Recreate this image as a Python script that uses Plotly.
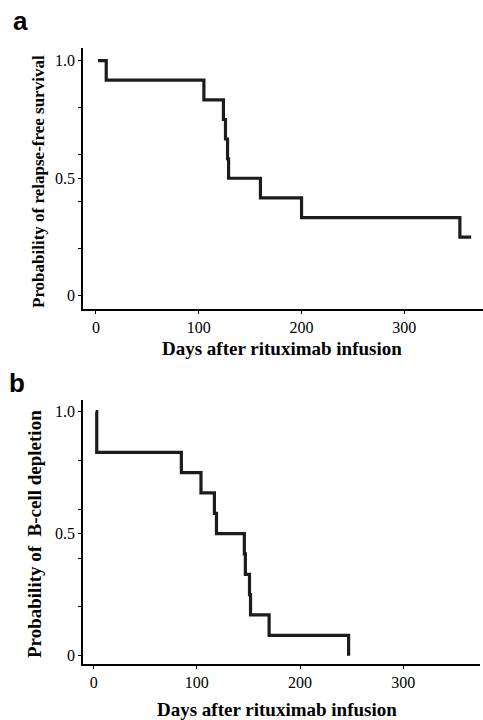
import plotly.graph_objects as go

# ── data ─────────────────────────────────────────────────────────────────────
days_a = [2, 10, 105, 124, 126, 128, 129, 160, 200, 354, 365]
surv_a = [1.0, 0.917, 0.833, 0.75, 0.667, 0.583, 0.5, 0.417, 0.333, 0.25, 0.25]

days_b = [2, 3, 85, 104, 117, 119, 146, 147, 151, 152, 170, 247]
surv_b = [1.0, 0.833, 0.75, 0.667, 0.583, 0.5, 0.417, 0.333, 0.25, 0.167, 0.083, 0.0]

x_ticks = [0, 100, 200, 300]
y_ticks = [0, 0.2, 0.4, 0.5, 0.6, 0.8, 1.0]
y_ticktext = ["0", "", "", "0.5", "", "", "1.0"]

W, H = 483, 720
SERIF = "Liberation Serif, Times New Roman, serif"
LINE = "#1c1c1c"


def px(x):
    return x / W


def py(y):
    return 1 - y / H


fig = go.Figure()

fig.add_trace(go.Scatter(
    x=days_a, y=surv_a, mode="lines", line_shape="hv",
    line=dict(color=LINE, width=3.2), xaxis="x", yaxis="y", showlegend=False,
))
fig.add_trace(go.Scatter(
    x=days_b, y=surv_b, mode="lines", line_shape="hv",
    line=dict(color=LINE, width=3.2), xaxis="x2", yaxis="y2", showlegend=False,
))

axis_common = dict(
    showline=True, linecolor="black", linewidth=1.5,
    ticks="outside", ticklen=3, tickwidth=1.2, tickcolor="black",
    showgrid=False, zeroline=False,
    tickfont=dict(family=SERIF, size=16, color="black"),
)

fig.update_layout(
    width=W, height=H,
    paper_bgcolor="white", plot_bgcolor="white",
    margin=dict(l=0, r=0, t=0, b=0),
    xaxis=dict(domain=[px(83), px(483)], range=[-12.6, 376.5],
               tickvals=x_ticks, anchor="y", **axis_common),
    yaxis=dict(domain=[py(309), py(48)], range=[-0.056, 1.054],
               tickvals=y_ticks, ticktext=y_ticktext, anchor="x",
               **axis_common),
    xaxis2=dict(domain=[px(83), px(480)], range=[-10.3, 374.3],
                tickvals=x_ticks, anchor="y2", **axis_common),
    yaxis2=dict(domain=[py(664), py(400)], range=[-0.034, 1.048],
                tickvals=y_ticks, ticktext=y_ticktext, anchor="x2",
                **axis_common),
)

# ── titles and panel letters ─────────────────────────────────────────────────
notes = [
    dict(x=px(282), y=py(348), text="<b>Days after rituximab infusion</b>",
         textangle=0, size=19),
    dict(x=px(277), y=py(709), text="<b>Days after rituximab infusion</b>",
         textangle=0, size=19),
    dict(x=px(38), y=py(182), text="<b>Probability of relapse-free survival</b>",
         textangle=-90, size=17),
    dict(x=px(34), y=py(534), text="<b>Probability of&nbsp; B-cell depletion</b>",
         textangle=-90, size=19),
]
for n in notes:
    size = n.pop("size")
    fig.add_annotation(xref="paper", yref="paper", showarrow=False,
                       xanchor="center", yanchor="middle",
                       font=dict(family=SERIF, size=size, color="black"), **n)

for letter, x0, y0 in [("a", 20, 21), ("b", 17, 383)]:
    fig.add_annotation(xref="paper", yref="paper", x=px(x0), y=py(y0),
                       text=f"<b>{letter}</b>", showarrow=False,
                       xanchor="center", yanchor="middle",
                       font=dict(family="Liberation Sans, Arial, sans-serif",
                                 size=26, color="black"))

fig.write_html("out.html",
               config={"displayModeBar": False},
               post_script="document.body.style.margin='0';"
                           "document.body.style.overflow='hidden';")
